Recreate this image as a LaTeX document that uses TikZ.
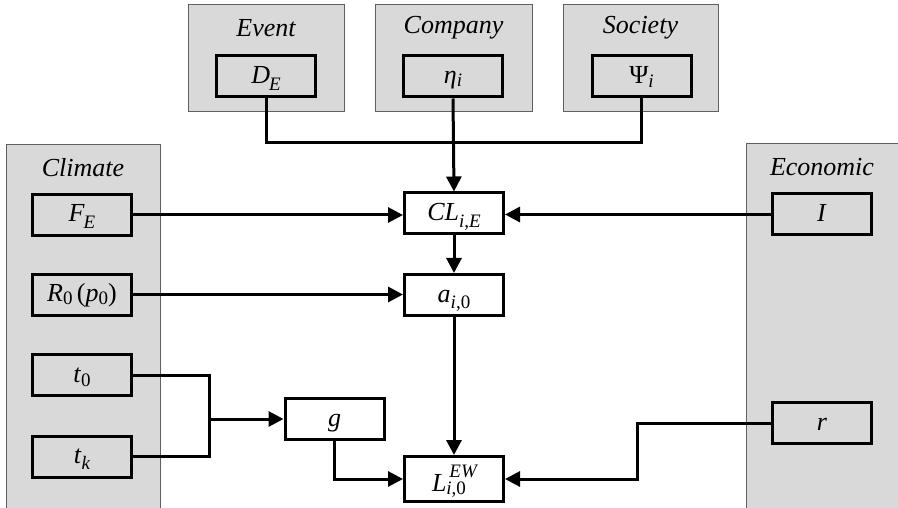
\documentclass[tikz,border=0pt]{standalone}
\usepackage{fontspec}
\usepackage{graphicx}
\setmainfont{Liberation Serif}
\usetikzlibrary{arrows.meta,positioning}
\definecolor{panelgray}{HTML}{D9D9D9}
\definecolor{panelline}{HTML}{606060}
\newcommand\subsz{\fontsize{19}{19}\selectfont}
\newcommand\vsub[2][-6pt]{\raisebox{#1}{\subsz #2}}
\newcommand\vi[1]{\textit{#1}}
\tikzset{
  panel/.style={draw=panelline,line width=1pt,fill=panelgray},
  ptitle/.style={font=\fontsize{26}{30}\selectfont\itshape,inner sep=0pt},
  var/.style={draw=black,line width=3pt,fill=panelgray,minimum width=99pt,minimum height=41pt,inner sep=0pt,
    text height=19pt,text depth=5pt,font=\fontsize{26}{29}\selectfont},
  wvar/.style={var,fill=white},
  conn/.style={line width=3pt,line join=miter},
  arr/.style={conn,-{Triangle[length=15pt,width=15pt]}},
}
\begin{document}
\begin{tikzpicture}[x=1pt,y=-1pt]
\useasboundingbox (0,0) rectangle (898,508);
\begin{scope}
\clip (0,0) rectangle (898,508);
% panels
\draw[panel] (188,5) rectangle (344,112);
\draw[panel] (375,5) rectangle (532,112);
\draw[panel] (563,5) rectangle (718,112);
\draw[panel] (6,145) rectangle (160,520);
\draw[panel] (746,144) rectangle (904,520);
\end{scope}
% panel titles
\node[ptitle] (tEvent) at (266,28) {Event};
\node[ptitle] (tCompany) at (453.5,28) {Company};
\node[ptitle] (tSociety) at (640.5,28) {Society};
\node[ptitle] (tClimate) at (83,168) {Climate};
\node[ptitle] (tEconomic) at (822,167) {Economic};
% variable boxes
\node[var] (DE) at (266,76.5) {\vi{D}\kern-1pt\vsub[-7pt]{\vi{E}}};
\node[var] (eta) at (453,76.5) {\vi{η}\vsub[-3pt]{\vi{i}}};
\node[var] (Psi) at (641.5,76.5) {Ψ\vsub[-4pt]{\vi{i}}};
\node[var] (FE) at (82,215) {\vi{F}\kern-1pt\vsub[-7pt]{\vi{E}}};
\node[var] (R0) at (82,294.5) {\vi{R}\vsub[-3pt]{0}\,(\vi{p}\vsub[-3pt]{0})};
\node[var] (t0) at (82,375) {\vi{t}\vsub[-4pt]{0}};
\node[var] (tk) at (82,456.5) {\vi{t}\vsub[-6pt]{\vi{k}}};
\node[var] (I) at (822,214.5) {\vi{I}};
\node[var] (r) at (822,423) {\vi{r}};
\node[wvar] (CL) at (454,213.5) {\vi{CL}\vsub[-7pt]{\vi{i},\vi{E}}};
\node[wvar] (a) at (454,295) {\vi{a}\vsub[-6pt]{\vi{i},0}};
\node[wvar] (g) at (334.5,419) {\vi{g}};
\node[wvar,minimum height=45pt,text height=24pt,text depth=0pt] (L) at (454,479)
  {\vi{L}\makebox[0pt][l]{\kern3pt\raisebox{14pt}{\subsz\vi{EW}}}\vsub[-3pt]{\vi{i},0}\kern10pt};
% junctions
\coordinate (j) at (453,143);
\coordinate (jt) at (209,419);
\coordinate (jr) at (637,423);
% connectors
\draw[conn] (DE.south) |- (j) -| (Psi.south);
\draw[arr] (eta.south) -- (CL.north);
\draw[arr] (FE.east) -- (FE.east -| CL.west);
\draw[arr] (I.west) -- (I.west -| CL.east);
\draw[arr] (CL.south) -- (a.north);
\draw[arr] (R0.east) -- (R0.east -| a.west);
\draw[arr] (a.south) -- (L.north);
\draw[conn] (t0.east) -| (jt) |- (tk.east);
\draw[arr] (jt) -- (g.west);
\draw[arr] (g.south) |- (L.west);
\draw[arr] (r.west) -- (jr) |- (L.east);
\end{tikzpicture}
\end{document}
